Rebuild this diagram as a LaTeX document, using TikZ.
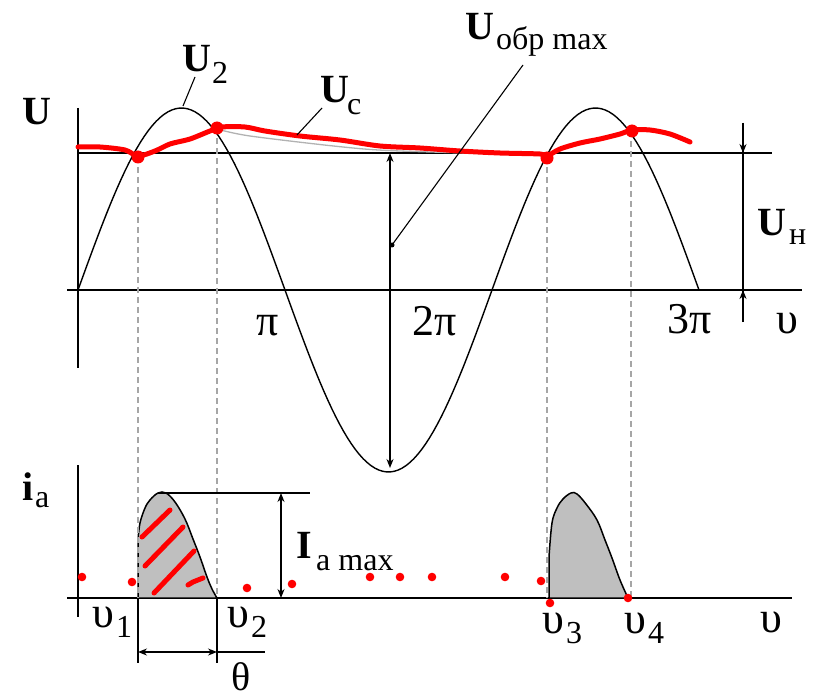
\documentclass[tikz,border=0pt]{standalone}
\usepackage{fontspec}
\setmainfont{Liberation Serif}
\usetikzlibrary{arrows.meta}
\tikzset{
  ax/.style={line width=1.8pt, black},
  thinline/.style={line width=1.1pt, black},
  sinecurve/.style={line width=1.4pt, black},
  dashline/.style={line width=1.5pt, gray!70, dash pattern=on 6pt off 4pt},
  redline/.style={line width=5pt, red, line cap=round, line join=round},
  reddot/.style={fill=red, draw=none},
  pulse/.style={fill=gray!50, draw=black, line width=1.5pt},
  dimarr/.style={line width=1.4pt, {Stealth[length=9pt,width=7pt]}-{Stealth[length=9pt,width=7pt]}},
  onearr/.style={line width=1.4pt, -{Stealth[length=9pt,width=7pt]}},
  bigU/.style={font=\fontsize{40}{40}\selectfont\bfseries, inner sep=0pt, anchor=base west},
  subs/.style={font=\fontsize{32}{32}\selectfont, inner sep=0pt, anchor=base west},
  sym/.style={font=\fontsize{44}{44}\selectfont, inner sep=0pt, anchor=base west},
}
\begin{document}
\begin{tikzpicture}[x=1pt,y=-1pt]
\useasboundingbox (0,0) rectangle (815,698);
% ---------- coordinates ----------
\coordinate (uaxT) at (78,108);
\coordinate (uaxB) at (78,368);
\coordinate (zL) at (67,290);
\coordinate (zR) at (802,290);
\coordinate (nL) at (78,153);
\coordinate (nR) at (772,153);
\coordinate (iaxT) at (78,465);
\coordinate (iaxB) at (78,617);
\coordinate (bL) at (67,598);
\coordinate (bR) at (792,598);
% dashed verticals
\coordinate (d1T) at (138,157); \coordinate (d1B) at (138,598);
\coordinate (d2T) at (217,128); \coordinate (d2B) at (217,598);
\coordinate (d3T) at (547,157); \coordinate (d3B) at (547,598);
\coordinate (d4T) at (631,131); \coordinate (d4B) at (631,598);
% ---------- axes ----------
\draw[ax] (uaxT) -- (uaxB);
\draw[ax] (zL) -- (zR);
\draw[ax] (nL) -- (nR);
\draw[ax] (iaxT) -- (iaxB);
\draw[ax] (bL) -- (bR);
% ---------- pulses ----------
\draw[pulse] (138,598) -- plot[smooth, tension=0.6] coordinates {(138,540) (140,523) (145,508) (150,500) (158,493) (166,493) (175,502) (185,519) (193,539) (200,557) (207,577) (212,589) (217,598)} -- cycle;
\draw[pulse] (549,598) -- plot[smooth, tension=0.6] coordinates {(549,557) (552,523) (557,508) (563,499) (571,493) (577,494) (586,504) (597,520) (605,540) (612,558) (620,580) (628,598)} -- cycle;
% ---------- dashed lines ----------
\draw[dashline] (d1T) -- (d1B);
\draw[dashline] (d2T) -- (d2B);
\draw[dashline] (d3T) -- (d3B);
\draw[dashline] (d4T) -- (d4B);
% ---------- sine U2 ----------
\draw[sinecurve] plot[domain=78:699, samples=160] (\x, {290-182*sin((\x-78)/207*180)});
% ---------- faint original Uc ----------
\draw[line width=1.3pt, gray!60] plot[smooth] coordinates {(217,129) (250,136) (343,147) (400,151) (545,155)};
% ---------- red Uc ----------
\draw[redline] plot[smooth, tension=0.5] coordinates {(78,147) (100,147) (125,150) (138,156) (155,151) (170,144) (190,139) (210,131) (222,127) (245,127) (265,131) (300,136) (340,140) (380,146) (420,148) (460,151) (500,153) (540,154) (547,156) (560,149) (580,143) (600,139) (620,134) (632,130) (650,130) (670,134) (690,142)};
\foreach \p in {(138,157),(217,128),(547,158),(632,131)} \fill[reddot] \p circle (6.5pt);
% ---------- U_obr max arrow + leader ----------
\coordinate (oT) at (390,153);
\coordinate (oB) at (390,468);
\draw[dimarr] (oT) -- (oB);
\coordinate (oLa) at (523,65);
\coordinate (oLb) at (392,245);
\draw[thinline] (oLa) -- (oLb);
\fill (oLb) circle (2.5pt);
% ---------- U_n dimension ----------
\coordinate (unT) at (743,123);
\coordinate (unTt) at (743,153);
\coordinate (unB) at (743,322);
\coordinate (unBt) at (743,290);
\draw[line width=1.4pt] (unT) -- (unB);
\draw[onearr] (unT) -- (unTt);
\draw[onearr] (unB) -- (unBt);
% ---------- leaders U2, Uc ----------
\coordinate (u2a) at (195,77); \coordinate (u2b) at (183,106);
\draw[thinline] (u2a) -- (u2b);
\coordinate (uca) at (322,108); \coordinate (ucb) at (297,135);
\draw[thinline] (uca) -- (ucb);
% ---------- Ia max ----------
\coordinate (topL) at (158,493); \coordinate (topR) at (310,493);
\draw[ax] (topL) -- (topR);
\coordinate (iT) at (281,493); \coordinate (iB) at (281,598);
\draw[dimarr] (iT) -- (iB);
% ---------- theta ----------
\coordinate (t1a) at (138,598); \coordinate (t1b) at (138,663);
\coordinate (t2a) at (217,598); \coordinate (t2b) at (217,663);
\draw[ax] (t1a) -- (t1b);
\draw[ax] (t2a) -- (t2b);
\coordinate (thL) at (138,652); \coordinate (thM) at (217,652); \coordinate (thR) at (265,652);
\draw[dimarr] (thL) -- (thM);
\draw[line width=1.4pt] (thM) -- (thR);
% ---------- red hatch ----------
\draw[redline] (142,537) -- (170,510);
\draw[redline] (145,566) -- (183,527);
\draw[redline] (154,593) -- (194,551);
\draw[redline] (188,585) -- (193,582) -- (203,578);
\foreach \p in {(82,577),(132,582),(247,588),(292,584),(370,577),(400,577),(432,577),(505,577),(541,581),(550,603),(628,598)} \fill[reddot] \p circle (4.3pt);
% ---------- labels ----------
\node[bigU] (lU) at (22,125) {U};
\node[bigU] (lU2) at (182,72) {U};
\node[subs] (lU2s) at (212,84) {2};
\node[bigU] (lUc) at (320,103) {U};
\node[subs] (lUcs) at (347,115) {c};
\node[bigU] (lUo) at (465,40) {U};
\node[subs] (lUos) at (496,50) {обр max};
\node[bigU] (lUn) at (757,236) {U};
\node[subs] (lUns) at (789,244) {н};
\node[sym] (lpi1) at (256,335) {π};
\node[sym] (lpi2) at (412,335) {2π};
\node[sym] (lpi3) at (667,333) {3π};
\node[sym] (lv0) at (776,333) {υ};
\node[bigU] (lia) at (22,500) {i};
\node[subs] (lias) at (35,507) {a};
\node[bigU] (lIa) at (296,558) {I};
\node[subs] (lIas) at (316,570) {a max};
\node[sym] (lv1) at (92,627) {υ};
\node[subs] (lv1s) at (116,637) {1};
\node[sym] (lv2) at (227,627) {υ};
\node[subs] (lv2s) at (251,637) {2};
\node[sym] (lv3) at (542,633) {υ};
\node[subs] (lv3s) at (566,643) {3};
\node[sym] (lv4) at (624,633) {υ};
\node[subs] (lv4s) at (648,643) {4};
\node[sym] (lv5) at (760,632) {υ};
\node[font=\fontsize{40}{40}\selectfont, inner sep=0pt, anchor=base west] (lth) at (231,690) {θ};
\end{tikzpicture}
\end{document}
